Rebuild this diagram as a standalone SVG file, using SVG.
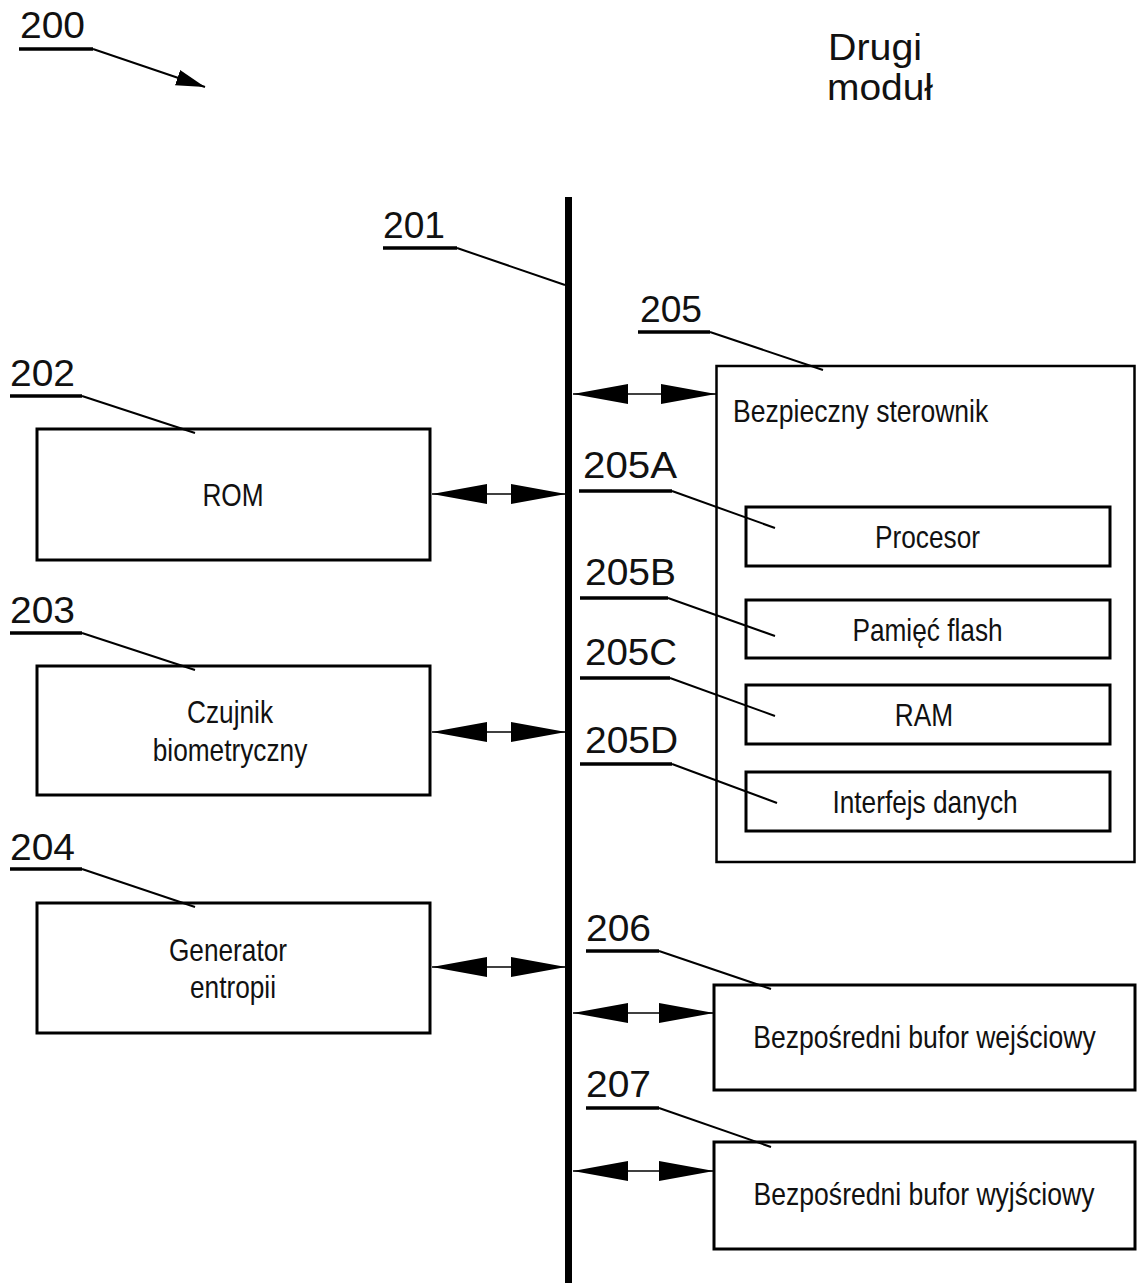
<svg xmlns="http://www.w3.org/2000/svg" width="1137" height="1283" viewBox="0 0 1137 1283">
  <style>
    .box { fill: #fff; stroke: #000; stroke-width: 3; }
    .outer { fill: none; stroke: #000; stroke-width: 2.5; }
    .txt { font-family: "Liberation Sans", Arial, sans-serif; font-size: 32px; fill: #111; text-anchor: middle; }
    .txl { font-family: "Liberation Sans", Arial, sans-serif; font-size: 32px; fill: #111; }
    .num { font-family: "Liberation Sans", Arial, sans-serif; font-size: 36px; fill: #111; }
    .ul { stroke: #000; stroke-width: 3.5; }
    .lead { stroke: #000; stroke-width: 2; fill: none; }
    .link { stroke: #000; stroke-width: 1.5; marker-start: url(#head); marker-end: url(#head); }
  </style>
  <defs>
    <marker id="head" markerUnits="userSpaceOnUse" markerWidth="56" markerHeight="22" refX="55" refY="11" orient="auto-start-reverse">
      <path d="M0,1 L55,11 L0,21 z" fill="#000"/>
    </marker>
    <marker id="small" markerUnits="userSpaceOnUse" markerWidth="30" markerHeight="18" refX="29" refY="9" orient="auto">
      <path d="M0,1 L29,9 L0,17 z" fill="#000"/>
    </marker>
  </defs>
  <rect width="1137" height="1283" fill="#fff"/>

  <!-- figure reference and title -->
  <g id="fig200">
    <text class="num" x="20" y="38" textLength="65" lengthAdjust="spacingAndGlyphs">200</text>
    <line class="ul" x1="19" y1="49" x2="93" y2="49"/>
    <line class="lead" x1="93" y1="49" x2="205" y2="87" marker-end="url(#small)"/>
  </g>
  <g id="title">
    <text class="num" x="828" y="60" font-size="37" textLength="94" lengthAdjust="spacingAndGlyphs">Drugi</text>
    <text class="num" x="827" y="100" font-size="37" textLength="106" lengthAdjust="spacingAndGlyphs">moduł</text>
  </g>

  <!-- system bus -->
  <g id="bus201">
    <rect x="565" y="197" width="7" height="1086" fill="#000"/>
    <text class="num" x="383" y="238" textLength="62" lengthAdjust="spacingAndGlyphs">201</text>
    <line class="ul" x1="383" y1="248" x2="457" y2="248"/>
    <line class="lead" x1="457" y1="248" x2="565" y2="285"/>
  </g>

  <!-- left-hand blocks -->
  <g id="rom202">
    <rect class="box" x="37" y="429" width="393" height="131"/>
    <g transform="translate(233,506) scale(0.82,1)"><text class="txt">ROM</text></g>
    <text class="num" x="10" y="386" textLength="65" lengthAdjust="spacingAndGlyphs">202</text>
    <line class="ul" x1="10" y1="396" x2="82" y2="396"/>
    <line class="lead" x1="82" y1="396" x2="195" y2="433"/>
  </g>
  <g id="sensor203">
    <rect class="box" x="37" y="666" width="393" height="129"/>
    <g transform="translate(230,723) scale(0.82,1)"><text class="txt">Czujnik</text></g>
    <g transform="translate(230,761) scale(0.82,1)"><text class="txt">biometryczny</text></g>
    <text class="num" x="10" y="623" textLength="65" lengthAdjust="spacingAndGlyphs">203</text>
    <line class="ul" x1="10" y1="633" x2="82" y2="633"/>
    <line class="lead" x1="82" y1="633" x2="195" y2="670"/>
  </g>
  <g id="entropy204">
    <rect class="box" x="37" y="903" width="393" height="130"/>
    <g transform="translate(228,961) scale(0.82,1)"><text class="txt">Generator</text></g>
    <g transform="translate(233,998) scale(0.82,1)"><text class="txt">entropii</text></g>
    <text class="num" x="10" y="860" textLength="65" lengthAdjust="spacingAndGlyphs">204</text>
    <line class="ul" x1="10" y1="869" x2="82" y2="869"/>
    <line class="lead" x1="82" y1="869" x2="195" y2="907"/>
  </g>

  <!-- secure controller with its parts -->
  <g id="ctrl205">
    <rect class="outer" x="716.5" y="366" width="418" height="496"/>
    <g transform="translate(733,422) scale(0.83,1)"><text class="txl">Bezpieczny sterownik</text></g>
    <text class="num" x="640" y="322" textLength="62" lengthAdjust="spacingAndGlyphs">205</text>
    <line class="ul" x1="638" y1="332" x2="710" y2="332"/>
    <line class="lead" x1="710" y1="332" x2="823" y2="370"/>
  </g>
  <g id="cpu205A">
    <rect class="box" x="746" y="507" width="364" height="59"/>
    <g transform="translate(927.5,548) scale(0.82,1)"><text class="txt">Procesor</text></g>
    <text class="num" x="583" y="478" textLength="94" lengthAdjust="spacingAndGlyphs">205A</text>
    <line class="ul" x1="579" y1="491" x2="672" y2="491"/>
    <line class="lead" x1="672" y1="491" x2="775" y2="528"/>
  </g>
  <g id="flash205B">
    <rect class="box" x="746" y="600" width="364" height="58"/>
    <g transform="translate(927.5,641) scale(0.82,1)"><text class="txt">Pamięć flash</text></g>
    <text class="num" x="585" y="585" textLength="91" lengthAdjust="spacingAndGlyphs">205B</text>
    <line class="ul" x1="580" y1="598" x2="668" y2="598"/>
    <line class="lead" x1="668" y1="598" x2="775" y2="636"/>
  </g>
  <g id="ram205C">
    <rect class="box" x="746" y="685" width="364" height="59"/>
    <g transform="translate(924,726) scale(0.82,1)"><text class="txt">RAM</text></g>
    <text class="num" x="585" y="665" textLength="92" lengthAdjust="spacingAndGlyphs">205C</text>
    <line class="ul" x1="580" y1="678" x2="670" y2="678"/>
    <line class="lead" x1="670" y1="678" x2="775" y2="716"/>
  </g>
  <g id="iface205D">
    <rect class="box" x="746" y="772" width="364" height="59"/>
    <g transform="translate(925,813) scale(0.82,1)"><text class="txt">Interfejs danych</text></g>
    <text class="num" x="585" y="753" textLength="93" lengthAdjust="spacingAndGlyphs">205D</text>
    <line class="ul" x1="580" y1="764" x2="672" y2="764"/>
    <line class="lead" x1="672" y1="764" x2="777" y2="803"/>
  </g>

  <!-- direct buffers -->
  <g id="inbuf206">
    <rect class="box" x="714" y="985" width="421" height="105"/>
    <g transform="translate(924.5,1048) scale(0.83,1)"><text class="txt">Bezpośredni bufor wejściowy</text></g>
    <text class="num" x="586" y="941" textLength="65" lengthAdjust="spacingAndGlyphs">206</text>
    <line class="ul" x1="586" y1="951" x2="659" y2="951"/>
    <line class="lead" x1="659" y1="951" x2="771" y2="989"/>
  </g>
  <g id="outbuf207">
    <rect class="box" x="714" y="1142" width="421" height="107"/>
    <g transform="translate(924,1205) scale(0.83,1)"><text class="txt">Bezpośredni bufor wyjściowy</text></g>
    <text class="num" x="586" y="1097" textLength="65" lengthAdjust="spacingAndGlyphs">207</text>
    <line class="ul" x1="586" y1="1108" x2="659" y2="1108"/>
    <line class="lead" x1="659" y1="1108" x2="771" y2="1147"/>
  </g>

  <!-- bidirectional links to the bus -->
  <g id="connectors">
    <line class="link" x1="573" y1="394" x2="716" y2="394"/>
    <line class="link" x1="432" y1="494" x2="566" y2="494"/>
    <line class="link" x1="432" y1="732" x2="566" y2="732"/>
    <line class="link" x1="432" y1="967" x2="566" y2="967"/>
    <line class="link" x1="573" y1="1013" x2="714" y2="1013"/>
    <line class="link" x1="573" y1="1171" x2="714" y2="1171"/>
  </g>
</svg>
